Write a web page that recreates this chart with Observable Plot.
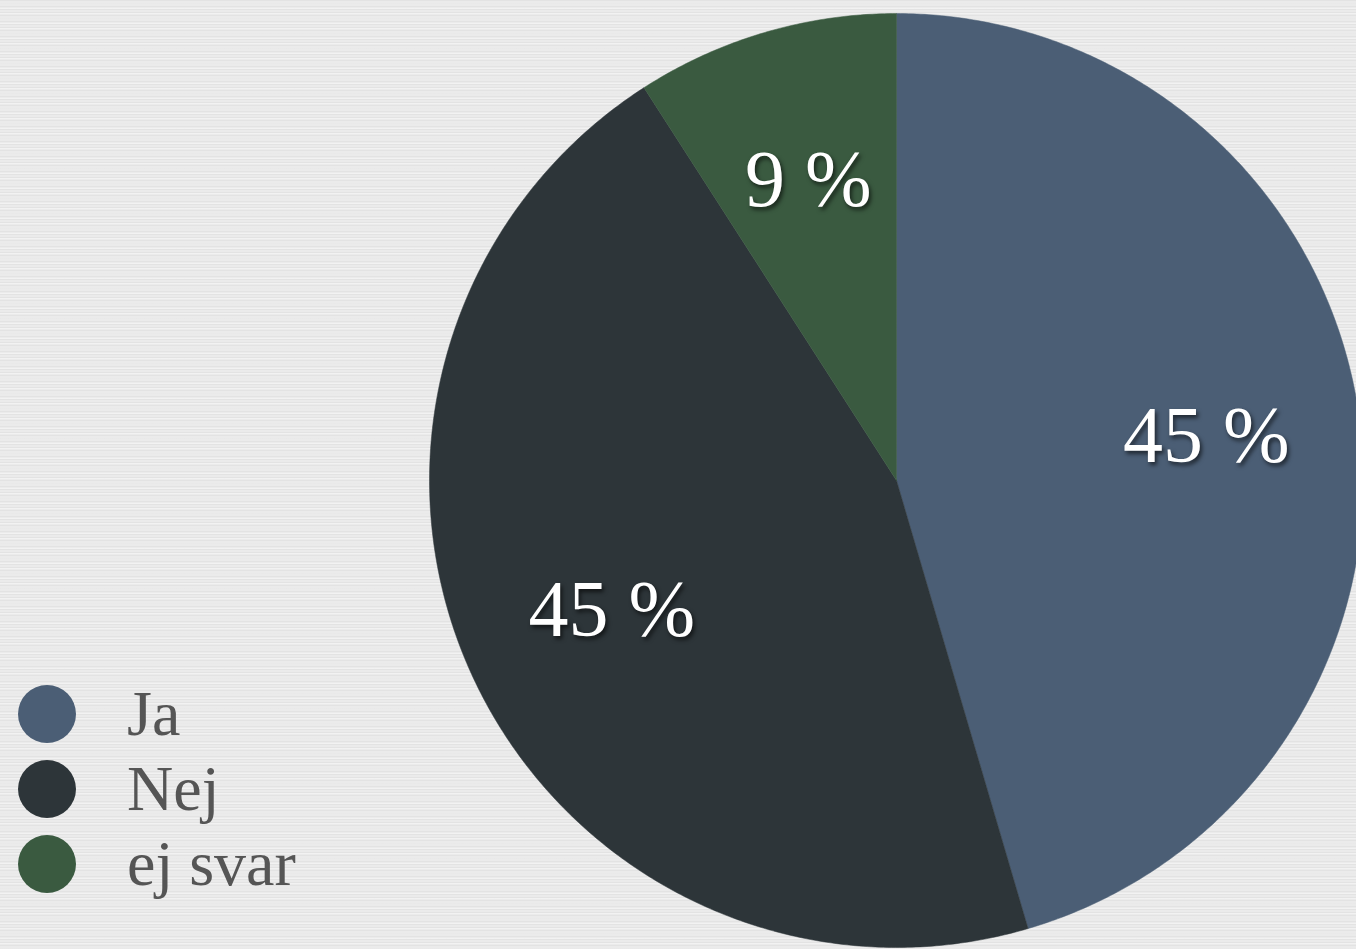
<!DOCTYPE html>
<html>
<head>
<meta charset="utf-8">
<script src="https://cdn.jsdelivr.net/npm/d3@7"></script>
<script src="https://cdn.jsdelivr.net/npm/@observablehq/plot@0.6"></script>
<style>
  html, body { margin: 0; padding: 0; }
  body {
    width: 1356px; height: 949px; overflow: hidden; position: relative;
    background-color: #ebebeb;
    background-image:
      repeating-linear-gradient(0deg, rgba(0,0,0,0.035) 0px, rgba(0,0,0,0.035) 1px, rgba(255,255,255,0.0) 1px, rgba(255,255,255,0.0) 3px),
      repeating-linear-gradient(0deg, rgba(255,255,255,0.35) 0px, rgba(255,255,255,0.35) 1px, rgba(255,255,255,0) 1px, rgba(255,255,255,0) 5px);
  }
  #chart svg { display: block; background: transparent !important; }
  #chart .pct text { filter: drop-shadow(2px 3px 2px rgba(0,0,0,0.6)); }
  #legend {
    position: absolute; left: 18px; top: 676px;
    font-family: "Liberation Serif", "DejaVu Serif", serif; font-size: 64px; color: #555;
  }
  #legend .row { display: flex; align-items: center; height: 75px; }
  #legend .sw { width: 58px; height: 58px; border-radius: 50%; margin-right: 51px; }
</style>
</head>
<body>
<div id="chart"></div>
<div id="legend"></div>
<script>
const categories = ["Ja", "Nej", "ej svar"];
const values = [5, 5, 1];
const labels = ["45 %", "45 %", "9 %"];
const colors = ["#4b5e75", "#2d3539", "#3a5a40"];

const arcs = d3.pie().sort(null).value(d => d)(values);

// slice outlines in unit-circle coordinates (angle 0 at top, clockwise)
const slicePts = [];
arcs.forEach((a, i) => {
  const cat = categories[i];
  slicePts.push({cat, x: 0, y: 0});
  const n = Math.max(2, Math.ceil((a.endAngle - a.startAngle) / (Math.PI / 360)));
  for (let k = 0; k <= n; k++) {
    const t = a.startAngle + (a.endAngle - a.startAngle) * k / n;
    slicePts.push({cat, x: Math.sin(t), y: Math.cos(t)});
  }
  slicePts.push({cat, x: 0, y: 0});
});

const labelR = 0.67;
const labelData = arcs.map((a, i) => {
  const m = (a.startAngle + a.endAngle) / 2;
  return {cat: categories[i], text: labels[i], x: labelR * Math.sin(m), y: labelR * Math.cos(m)};
});

const chart = Plot.plot({
  width: 1356,
  height: 949,
  margin: 0,
  style: {background: "transparent"},
  x: {domain: [-1, 1], range: [429, 1363], axis: null},
  y: {domain: [-1, 1], range: [947, 13], axis: null},
  color: {domain: categories, range: colors},
  marks: [
    Plot.line(slicePts, {x: "x", y: "y", z: "cat", fill: "cat", stroke: "cat", strokeWidth: 0.5, curve: "linear"}),
    Plot.text(labelData, {
      x: "x", y: "y", text: "text", fill: "white",
      fontSize: 80, fontFamily: "Liberation Serif, DejaVu Serif, serif",
      className: "pct"
    })
  ]
});
document.getElementById("chart").appendChild(chart);

const legend = document.getElementById("legend");
categories.forEach((c, i) => {
  const row = document.createElement("div");
  row.className = "row";
  const sw = document.createElement("div");
  sw.className = "sw";
  sw.style.background = colors[i];
  const lab = document.createElement("span");
  lab.textContent = c;
  row.appendChild(sw);
  row.appendChild(lab);
  legend.appendChild(row);
});
</script>
</body>
</html>
